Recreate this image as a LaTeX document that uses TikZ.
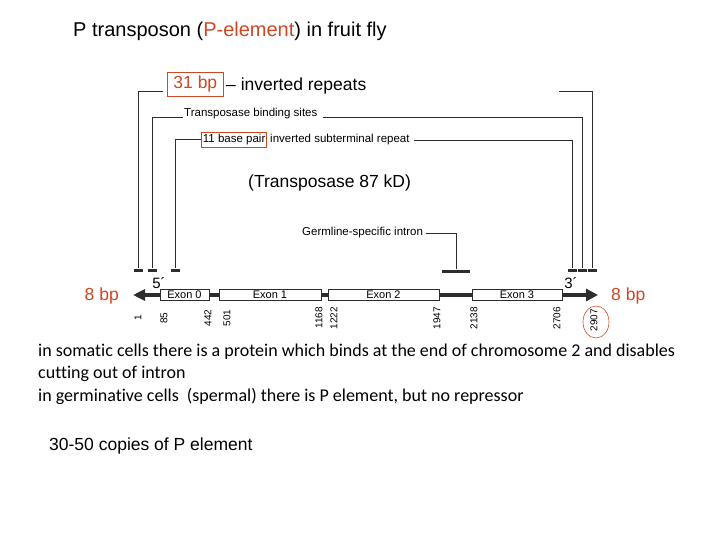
\documentclass[tikz,border=0pt]{standalone}
\usepackage{fontspec}
\setmainfont{Liberation Sans}
\newfontfamily\bodyfont[Ligatures=NoCommon]{Carlito}
\usetikzlibrary{arrows.meta,shapes.geometric}
\definecolor{pred}{RGB}{206,72,36}
\definecolor{ink}{RGB}{45,45,45}
\begin{document}
\begin{tikzpicture}[x=1pt,y=-1pt,
  line/.style={draw=ink, line width=0.9pt},
  exon/.style={draw=ink, line width=0.9pt, fill=white, minimum height=11pt, inner sep=0pt, font=\fontsize{11}{12}\selectfont},
  tickbar/.style={fill=ink, minimum width=9pt, minimum height=3pt, inner sep=0pt},
  small/.style={font=\fontsize{11.5}{13}\selectfont, inner sep=1pt},
  big/.style={font=\fontsize{17.5}{20}\selectfont, inner sep=0pt},
  num/.style={font=\fontsize{10}{11}\selectfont, rotate=90, inner sep=0pt},
  redbox/.style={draw=pred, line width=0.9pt},
  dna/.style={draw=ink, line width=3.5pt},
  bodytext/.style={anchor=west, font=\bodyfont\fontsize{18}{20}\selectfont, inner sep=0pt},
]
\useasboundingbox[fill=white] (0,0) rectangle (720,540);

% title
\node[anchor=west, font=\fontsize{20}{22}\selectfont, inner sep=0pt] (title) at (73,31) {P transposon (\textcolor{pred}{P-element}) in fruit fly};

% labels on top
\node[redbox, big, text=pred, inner xsep=6pt, minimum height=24pt, anchor=west] (b31) at (167,84) {31 bp};
\node[big, anchor=west] (ir) at (226,86) {– inverted repeats};
\node[small, anchor=base west] (tbs) at (183,117) {Transposase binding sites};
\node[redbox, small, minimum height=15pt, inner xsep=1.5pt, anchor=west] (b11) at (201,139.5) {11 base pair};
\node[small, anchor=west] (ist) at (269,140) {inverted subterminal repeat};
\node[big, anchor=west] (tp) at (248,183) {(Transposase 87 kD)};
\node[small, anchor=west] (gsi) at (301,233) {Germline-specific intron};

% ticks
\node[tickbar] (t1) at (138,270) {};
\node[tickbar] (t2) at (152,270) {};
\node[tickbar] (t3) at (175,270) {};
\node[tickbar] (t4) at (572,270) {};
\node[tickbar] (t5) at (582,270) {};
\node[tickbar] (t6) at (592,270) {};
\node[fill=ink, minimum width=28pt, minimum height=3pt, inner sep=0pt] (ib) at (456,271) {};

% brackets
\coordinate (c31) at (163,91);
\coordinate (r31) at (559,91);
\draw[line] (t1) |- (c31);
\draw[line] (r31) -| (t6);
\draw[line] (t2) |- (tbs.base west);
\draw[line, shorten <=4pt] (tbs.base east) -| (t5);
\draw[line] (t3) |- (b11.west);
\draw[line, shorten <=3pt] (ist.east) -| (t4);
\draw[line, shorten <=2pt] (gsi.east) -| (ib);

% gene
\node[exon, minimum width=49pt] (e0) at (184.5,295) {Exon 0};
\node[exon, minimum width=102pt] (e1) at (270,295) {Exon 1};
\node[exon, minimum width=111pt] (e2) at (383.5,295) {Exon 2};
\node[exon, minimum width=90pt] (e3) at (517,295) {Exon 3};
\coordinate (tipL) at (133,295);
\coordinate (tipR) at (598,295);
\draw[dna] (e0.east) -- (e1.west);
\draw[dna] (e1.east) -- (e2.west);
\draw[dna] (e2.east) -- (e3.west);
\draw[dna, -{Triangle[length=12pt,width=11pt]}] (e0.west) -- (tipL);
\draw[dna, -{Triangle[length=12pt,width=12pt]}] (e3.east) -- (tipR);

\node[font=\fontsize{15}{16}\selectfont, inner sep=0pt] (five) at (159,283) {5´};
\node[font=\fontsize{15}{16}\selectfont, inner sep=0pt] (three) at (571,283) {3´};
\node[big, text=pred, anchor=east] (l8) at (119,296) {8 bp};
\node[big, text=pred, anchor=west] (r8) at (611,296) {8 bp};

% coordinates
\node[num] (n1) at (138,318) {1};
\node[num] (n85) at (164,318) {85};
\node[num] (n442) at (208,318) {442};
\node[num] (n501) at (227,318) {501};
\node[num] (n1168) at (319,318) {1168};
\node[num] (n1222) at (334,318) {1222};
\node[num] (n1947) at (437,318) {1947};
\node[num] (n2138) at (474,318) {2138};
\node[num] (n2706) at (557,318) {2706};
\node[num] (n2907) at (594,320) {2907};
\node[draw=pred, ellipse, line width=0.6pt, minimum width=26pt, minimum height=32pt, inner sep=0pt] (ring) at (596,322) {};

% body text
\node[bodytext] (s1) at (38,352) {in somatic cells there is a protein which binds at the end of chromosome 2 and disables};
\node[bodytext] (s2) at (38,374) {cutting out of intron};
\node[bodytext] (s3) at (38,396) {in germinative cells\ \ (spermal) there is P element, but no repressor};
\node[big, anchor=west] (cp) at (49,446) {30-50 copies of P element};
\end{tikzpicture}
\end{document}
